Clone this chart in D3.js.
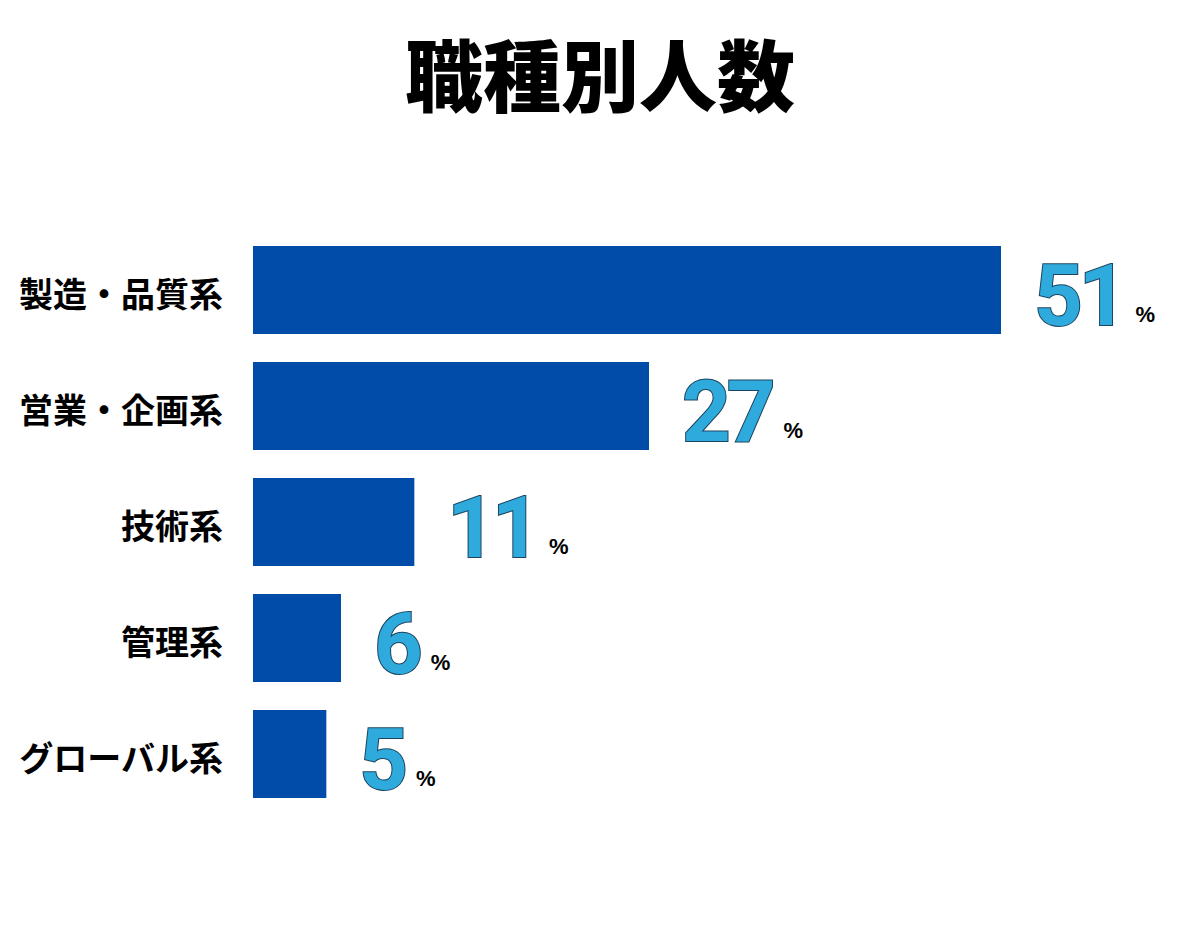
<!DOCTYPE html>
<html lang="ja">
<head>
<meta charset="utf-8">
<script src="https://cdn.jsdelivr.net/npm/d3@7/dist/d3.min.js"></script>
<style>
  html, body { margin: 0; padding: 0; background: #fff; }
  svg { display: block; }
</style>
</head>
<body>
<div id="chart"></div>
<script>
        // Data: job category share (%)
        const categories = ["製造・品質系", "営業・企画系", "技術系", "管理系", "グローバル系"];
        const values = [51, 27, 11, 6, 5];
        const unitLabel = "%";
        const titleText = "職種別人数";

        // Dimensions
        const width = 1200;
        const height = 927;

        const svg = d3.select("#chart")
            .append("svg")
            .attr("width", width)
            .attr("height", height);

        svg.append("rect")
            .attr("width", width)
            .attr("height", height)
            .attr("fill", "#ffffff");

        // Title
        svg.append("text")
            .attr("x", width / 2)
            .attr("y", 106)
            .attr("text-anchor", "middle")
            .style("font-family", "'Noto Sans CJK JP', 'Noto Sans CJK SC', sans-serif")
            .style("font-weight", "900")
            .style("font-size", "78px")
            .style("fill", "#000")
            .text(titleText);

        // Scales
        const x = d3.scaleLinear()
            .domain([0, d3.max(values)])
            .range([253, 1001]);

        const y = d3.scaleBand()
            .domain(categories)
            .range([246, 798])
            .paddingInner(28 / 116)
            .paddingOuter(0);

        const rows = categories.map((c, i) => ({ cat: c, value: values[i] }));

        // Bars
        svg.selectAll(".bar")
            .data(rows)
            .enter()
            .append("rect")
            .attr("class", "bar")
            .attr("x", x(0))
            .attr("y", d => y(d.cat))
            .attr("width", d => x(d.value) - x(0))
            .attr("height", y.bandwidth())
            .attr("fill", "#004ca8");

        // Category labels
        svg.selectAll(".cat")
            .data(rows)
            .enter()
            .append("text")
            .attr("class", "cat")
            .attr("x", 223)
            .attr("y", d => y(d.cat) + y.bandwidth() / 2 + 2)
            .attr("text-anchor", "end")
            .attr("dominant-baseline", "central")
            .style("font-family", "'Noto Sans CJK JP', 'Noto Sans CJK SC', sans-serif")
            .style("font-weight", "700")
            .style("font-size", "34px")
            .style("fill", "#000")
            .text(d => d.cat);

        // Value numbers
        const numGap = 33;
        const nums = svg.selectAll(".num")
            .data(rows)
            .enter()
            .append("text")
            .attr("class", "num")
            .attr("x", d => x(d.value) + numGap)
            .attr("y", d => y(d.cat) + y.bandwidth() / 2 + 35)
            .style("font-family", "Roboto, 'Liberation Sans', sans-serif")
            .style("font-weight", "700")
            .style("font-size", "85px")
            .style("letter-spacing", "-4px")
            .style("fill", "#2eaadc")
            .style("stroke", "#1d4460")
            .style("stroke-width", "2px")
            .style("paint-order", "stroke")
            .text(d => d.value);

        // Percent signs placed right after each number
        nums.each(function(d) {
            const len = this.getComputedTextLength();
            svg.append("text")
                .attr("class", "pct")
                .attr("x", x(d.value) + numGap + len + 12)
                .attr("y", y(d.cat) + y.bandwidth() / 2 + 32)
                .style("font-family", "'Liberation Sans', Arial, sans-serif")
                .style("font-weight", "700")
                .style("font-size", "22px")
                .style("fill", "#000")
                .text(unitLabel);
        });
</script>
</body>
</html>
